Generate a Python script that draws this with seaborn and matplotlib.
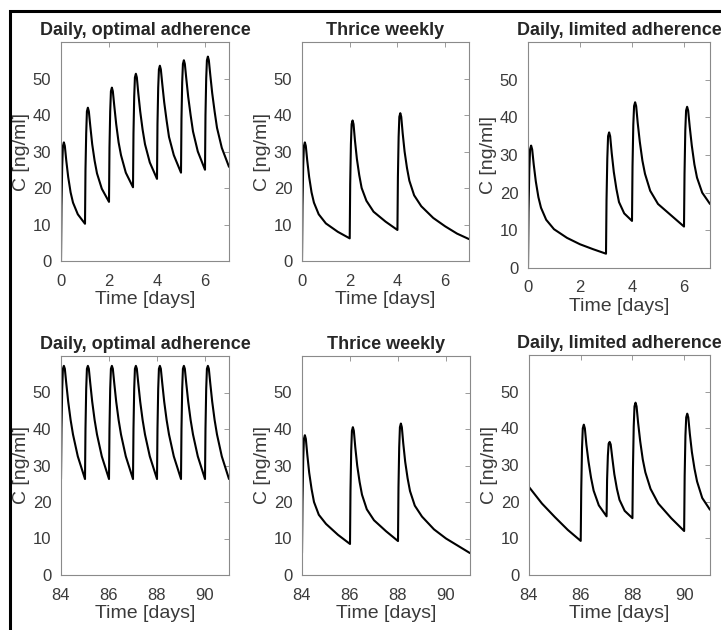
import numpy as np
import pandas as pd
import seaborn as sns
import matplotlib.pyplot as plt
from matplotlib.patches import Rectangle

# Concentration curves (time in days, C in ng/ml)
t_opt_start = [0, 0.02, 0.05, 0.08, 0.12, 0.16, 0.22, 0.3, 0.4, 0.5, 0.7, 1.0,
               1.02, 1.05, 1.08, 1.12, 1.16, 1.22, 1.3, 1.4, 1.5, 1.7, 2.0,
               2.02, 2.05, 2.08, 2.12, 2.16, 2.22, 2.3, 2.4, 2.5, 2.7, 3.0,
               3.02, 3.05, 3.08, 3.12, 3.16, 3.22, 3.3, 3.4, 3.5, 3.7, 4.0,
               4.02, 4.05, 4.08, 4.12, 4.16, 4.22, 4.3, 4.4, 4.5, 4.7, 5.0,
               5.02, 5.05, 5.08, 5.12, 5.16, 5.22, 5.3, 5.4, 5.5, 5.7, 6.0,
               6.02, 6.05, 6.08, 6.12, 6.16, 6.22, 6.3, 6.4, 6.5, 6.7, 7.0]
c_opt_start = [0, 15, 26, 31.5, 32.5, 31.5, 27.5, 23, 18.8, 16, 12.8, 10.2,
               25, 35, 41, 42, 41, 37, 32, 27.5, 24, 19.8, 16.2,
               31, 41, 46.5, 47.5, 46.5, 42.5, 37.5, 32.5, 29, 24.2, 20.2,
               35, 45, 50.3, 51.3, 50.3, 46, 41, 36, 32, 27, 22.5,
               37.5, 47.5, 52.5, 53.5, 52.5, 48.5, 43.5, 38.5, 34, 29, 24.2,
               39, 49, 54, 55, 54, 50, 45, 40, 35.5, 30, 25,
               40, 50, 55, 56, 55, 51, 46, 41, 36.5, 31, 25.8]

t_tw_start = [0, 0.02, 0.05, 0.08, 0.12, 0.16, 0.22, 0.3, 0.4, 0.5, 0.7, 1.0, 1.5, 2.0,
              2.02, 2.05, 2.08, 2.12, 2.16, 2.22, 2.3, 2.4, 2.5, 2.7, 3.0, 3.5, 4.0,
              4.02, 4.05, 4.08, 4.12, 4.16, 4.22, 4.3, 4.4, 4.5, 4.7, 5.0, 5.5, 6.0, 6.5, 7.0]
c_tw_start = [0, 15, 26, 31.5, 32.5, 31.5, 27.5, 23, 18.8, 16, 12.8, 10.3, 8, 6.2,
              21, 32, 37.5, 38.5, 37.5, 33, 28, 23.5, 20, 16.5, 13.5, 10.8, 8.5,
              23, 34, 39.5, 40.5, 39.5, 35, 30, 25.5, 22, 18, 15, 11.8, 9.5, 7.5, 6]

t_lim_start = [0, 0.02, 0.05, 0.08, 0.12, 0.16, 0.22, 0.3, 0.4, 0.5, 0.7, 1.0, 1.5, 2.0, 2.5, 3.0,
               3.02, 3.05, 3.08, 3.12, 3.16, 3.22, 3.3, 3.4, 3.5, 3.7, 4.0,
               4.02, 4.05, 4.08, 4.12, 4.16, 4.22, 4.3, 4.4, 4.5, 4.7, 5.0, 5.5, 6.0,
               6.02, 6.05, 6.08, 6.12, 6.16, 6.22, 6.3, 6.4, 6.5, 6.7, 7.0]
c_lim_start = [0, 15, 26, 31.5, 32.5, 31.5, 27.5, 23, 18.8, 16, 12.8, 10.3, 8, 6.3, 5, 3.8,
               18, 29, 35, 36, 35, 30.5, 25.5, 21, 17.5, 14.5, 12.5,
               27, 38, 43, 44, 43, 38.5, 33.5, 28.5, 25, 20.5, 17, 14, 11,
               25, 36.5, 41.8, 42.8, 41.8, 37.5, 32.5, 27.5, 24, 20, 17]

t_opt_end = [84, 84.02, 84.05, 84.08, 84.12, 84.16, 84.22, 84.3, 84.4, 84.5, 84.7, 85,
             85.02, 85.05, 85.08, 85.12, 85.16, 85.22, 85.3, 85.4, 85.5, 85.7, 86,
             86.02, 86.05, 86.08, 86.12, 86.16, 86.22, 86.3, 86.4, 86.5, 86.7, 87,
             87.02, 87.05, 87.08, 87.12, 87.16, 87.22, 87.3, 87.4, 87.5, 87.7, 88,
             88.02, 88.05, 88.08, 88.12, 88.16, 88.22, 88.3, 88.4, 88.5, 88.7, 89,
             89.02, 89.05, 89.08, 89.12, 89.16, 89.22, 89.3, 89.4, 89.5, 89.7, 90,
             90.02, 90.05, 90.08, 90.12, 90.16, 90.22, 90.3, 90.4, 90.5, 90.7, 91]
c_opt_end = [26.3, 40, 51, 56.5, 57.3, 56.5, 52.5, 47.5, 42.5, 38.5, 32.5, 26.3,
             40, 51, 56.5, 57.3, 56.5, 52.5, 47.5, 42.5, 38.5, 32.5, 26.3,
             40, 51, 56.5, 57.3, 56.5, 52.5, 47.5, 42.5, 38.5, 32.5, 26.3,
             40, 51, 56.5, 57.3, 56.5, 52.5, 47.5, 42.5, 38.5, 32.5, 26.3,
             40, 51, 56.5, 57.3, 56.5, 52.5, 47.5, 42.5, 38.5, 32.5, 26.3,
             40, 51, 56.5, 57.3, 56.5, 52.5, 47.5, 42.5, 38.5, 32.5, 26.3,
             40, 51, 56.5, 57.3, 56.5, 52.5, 47.5, 42.5, 38.5, 32.5, 26.3]

t_tw_end = [84, 84.02, 84.05, 84.08, 84.12, 84.16, 84.22, 84.3, 84.4, 84.5, 84.7, 85, 85.5, 86,
            86.02, 86.05, 86.08, 86.12, 86.16, 86.22, 86.3, 86.4, 86.5, 86.7, 87, 87.5, 88,
            88.02, 88.05, 88.08, 88.12, 88.16, 88.22, 88.3, 88.4, 88.5, 88.7, 89, 89.5, 90, 90.5, 91]
c_tw_end = [6, 20, 31.5, 37.3, 38.3, 37.3, 33, 28, 23.5, 20, 16.5, 14, 11, 8.5,
            23, 34, 39.5, 40.5, 39.5, 35, 30, 25.5, 22, 18, 15, 12, 9.3,
            24, 35, 40.5, 41.5, 40.5, 36, 31, 26.5, 23, 19, 16, 12.5, 10, 8, 6]

t_lim_end = [84, 84.5, 85, 85.5, 86,
             86.02, 86.05, 86.08, 86.12, 86.16, 86.22, 86.3, 86.4, 86.5, 86.7, 87,
             87.02, 87.05, 87.08, 87.12, 87.16, 87.22, 87.3, 87.4, 87.5, 87.7, 88,
             88.02, 88.05, 88.08, 88.12, 88.16, 88.22, 88.3, 88.4, 88.5, 88.7, 89, 89.5, 90,
             90.02, 90.05, 90.08, 90.12, 90.16, 90.22, 90.3, 90.4, 90.5, 90.7, 91]
c_lim_end = [24, 19.5, 15.8, 12.3, 9.3,
             23, 34.5, 40, 41, 40, 35.5, 31, 26.5, 23, 19, 16,
             26, 32.5, 35.8, 36.3, 35.6, 32, 27.5, 23.5, 20.5, 17.5, 15.5,
             29, 40.5, 46, 47, 46, 41.5, 36.5, 31.5, 28, 23.5, 19.5, 15.5, 12,
             27, 38, 43, 44, 43, 38.5, 33.5, 29, 25.5, 21, 17.8]

titles = ["Daily, optimal adherence", "Thrice weekly", "Daily, limited adherence"]
curves = [(t_opt_start, c_opt_start), (t_tw_start, c_tw_start), (t_lim_start, c_lim_start),
          (t_opt_end, c_opt_end), (t_tw_end, c_tw_end), (t_lim_end, c_lim_end)]
xranges = [(0, 7), (0, 7), (0, 7), (84, 91), (84, 91), (84, 91)]
xtick_sets = [[0, 2, 4, 6]] * 3 + [[84, 86, 88, 90]] * 3

# axes boxes in pixels: left, top, right, bottom
W, H = 721, 630
boxes = [(61, 42, 229, 261), (302, 42, 469, 261), (528, 42, 710, 268),
         (61, 356, 229, 575), (302, 356, 470, 575), (529, 355, 710, 575)]

sns.set_style("white")
plt.rcParams["font.family"] = ["Liberation Sans", "DejaVu Sans"]

fig = plt.figure(figsize=(W / 100, H / 100), dpi=100)
fig.patches.append(Rectangle((9.5 / W, -0.1), 1.2, 1 - 10.5 / H + 0.1,
                             transform=fig.transFigure, fill=False,
                             edgecolor="black", lw=2.2))

for i, (t, c) in enumerate(curves):
    l, tp, r, b = boxes[i]
    ax = fig.add_axes([l / W, 1 - b / H, (r - l) / W, (b - tp) / H])
    df = pd.DataFrame({"t": t, "c": c})
    sns.lineplot(data=df, x="t", y="c", ax=ax, color="black", lw=1.5,
                 sort=False, estimator=None)
    ax.set_xlim(*xranges[i])
    ax.set_ylim(0, 60)
    ax.set_xticks(xtick_sets[i])
    ax.set_yticks([0, 10, 20, 30, 40, 50])
    ax.tick_params(direction="in", length=3.5, width=0.6, color="#8a8a8a",
                   labelsize=12, labelcolor="#3a3a3a", pad=7,
                   top=True, right=True)
    ax.tick_params(axis="x", pad=9)
    for s in ax.spines.values():
        s.set_color("#8a8a8a")
        s.set_linewidth(0.8)
    ax.set_xlabel("Time [days]", fontsize=14, color="#3a3a3a", labelpad=2)
    ax.set_ylabel("C [ng/ml]", fontsize=14, color="#3a3a3a", labelpad=2)
    ax.set_title(titles[i % 3], fontsize=13, fontweight="bold", pad=5)

fig.savefig("out.png", dpi=100)
